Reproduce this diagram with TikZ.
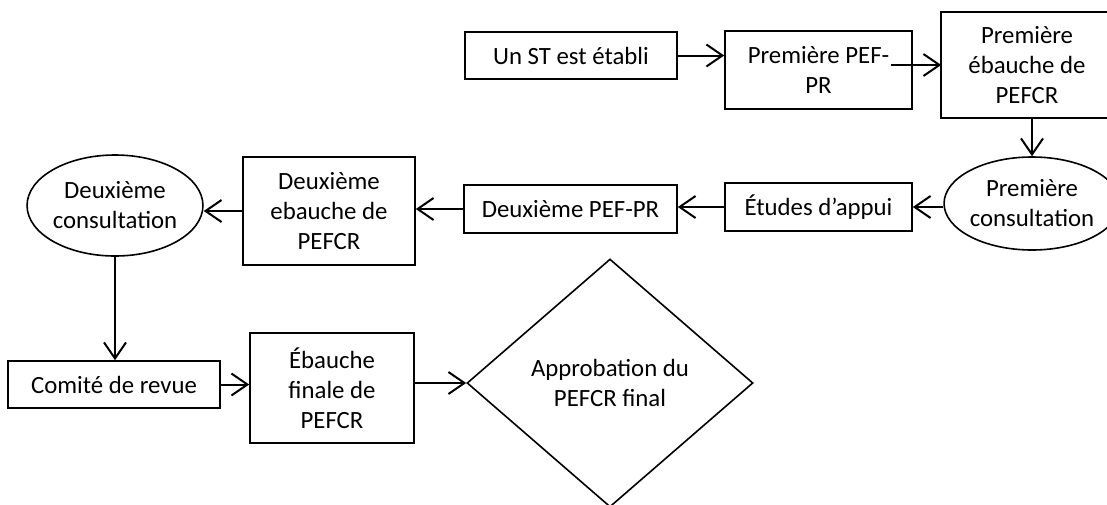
\documentclass[tikz,border=0pt]{standalone}
\usepackage{fontspec}
\setmainfont{Carlito}
\usetikzlibrary{shapes.geometric,arrows.meta}

\tikzset{
  boite/.style={draw, line width=0.8pt, align=center, inner sep=0pt, font=\fontsize{12.4}{15}\selectfont},
  bulle/.style={draw, ellipse, line width=0.8pt, align=center, inner sep=0pt, font=\fontsize{12.4}{15}\selectfont},
  losange/.style={draw, diamond, line width=0.8pt, align=center, inner sep=0pt, font=\fontsize{12.4}{15}\selectfont},
  fleche/.style={line width=1pt, -{Straight Barb[length=8pt,width=11pt,line width=1pt]}}
}

\begin{document}
\begin{tikzpicture}[x=0.5pt,y=0.5pt,yscale=-1,xscale=1]
\useasboundingbox (0,0) rectangle (1107,504);

%Shape: Rectangle
\node (st) [boite, minimum width=106pt, minimum height=23.5pt] at (571,55.5) {Un ST est établi};
%Shape: Rectangle
\node (pef1) [boite, minimum width=93.5pt, minimum height=39pt] at (818.5,70) {Première PEF-\\PR};
%Shape: Rectangle, its right side lies past the page
\node (eb1) [boite, draw=none, minimum width=85pt, minimum height=52pt] at (1027,65) {Première\\ébauche de\\PEFCR};
\draw [line width=0.8pt] (eb1.north east) ++(20pt,0) -- (eb1.north west) -- (eb1.south west) -- ++(105pt,0);
%Shape: Ellipse
\node (cons1) [bulle, minimum width=74pt, minimum height=46.5pt] at (1032,203.5) {Première\\consultation};
%Shape: Rectangle
\node (etudes) [boite, minimum width=93.5pt, minimum height=24pt] at (818.5,207) {Études d’appui};
%Shape: Rectangle
\node (pef2) [boite, minimum width=106.5pt, minimum height=24pt] at (570.5,209) {Deuxième PEF-PR};
%Shape: Rectangle
\node (eb2) [boite, minimum width=86pt, minimum height=54pt] at (329,211) {Deuxième\\ebauche de\\PEFCR};
%Shape: Ellipse
\node (cons2) [bulle, minimum width=85pt, minimum height=50.5pt] at (115,205.5) {Deuxième\\consultation};
%Shape: Rectangle
\node (comite) [boite, minimum width=106pt, minimum height=23.5pt] at (114,384.5) {Comité de revue};
%Shape: Rectangle
\node (ebf) [boite, minimum width=82pt, minimum height=55pt] at (332,388) {Ébauche\\finale de\\PEFCR};
%Shape: Diamond
\node (approb) [losange, minimum width=143pt, minimum height=124pt] at (610,383) {Approbation du\\PEFCR final};

%Straight Lines
\draw [fleche] (st.east) -- (st.east -| pef1.west);
\draw [fleche] ([xshift=-11pt]pef1.east |- eb1.west) -- (eb1.west);
\draw [fleche] (cons1.north |- eb1.south) -- (cons1.north);
\draw [fleche] (etudes.east -| cons1.west) -- (etudes.east);
\draw [fleche] (etudes.west) -- (etudes.west -| pef2.east);
\draw [fleche] (pef2.west) -- (pef2.west -| eb2.east);
\draw [fleche] (eb2.west) -- (eb2.west -| cons2.east);
\draw [fleche] (cons2.south) -- (cons2.south |- comite.north);
\draw [fleche] (comite.east) -- (comite.east -| ebf.west);
\draw [fleche] (approb.west -| ebf.east) -- (approb.west);

\end{tikzpicture}
\end{document}
